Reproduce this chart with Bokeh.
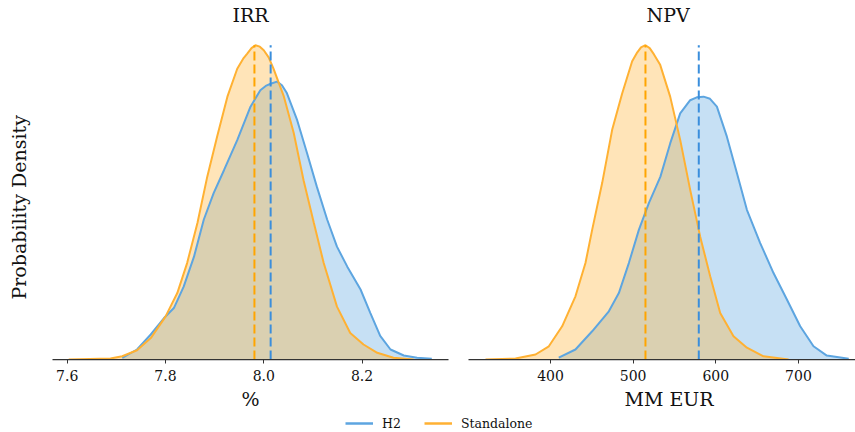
import math
from bokeh.plotting import figure
from bokeh.layouts import column, row
from bokeh.models import Range1d, FixedTicker, Legend, LegendItem, Title
from bokeh.core.properties import value
from bokeh.embed import file_html
from bokeh.resources import INLINE

# ---------------- data ----------------
series = ["H2", "Standalone"]

# IRR (%) kernel density estimates
irr_h2_x = [7.712, 7.742, 7.770, 7.797, 7.817, 7.837, 7.858, 7.878, 7.898, 7.919, 7.946, 7.973, 7.993,
            8.004, 8.014, 8.027, 8.037, 8.047, 8.068, 8.088, 8.108, 8.129, 8.149, 8.170, 8.197, 8.217,
            8.237, 8.258, 8.285, 8.312, 8.342]
irr_h2_d = [0.024, 0.14, 0.35, 0.58, 0.72, 1.02, 1.44, 1.96, 2.33, 2.65, 3.07, 3.54, 3.77,
            3.83, 3.86, 3.89, 3.84, 3.73, 3.35, 2.89, 2.42, 1.96, 1.58, 1.30, 0.98, 0.65,
            0.33, 0.14, 0.056, 0.024, 0.010]
irr_sa_x = [7.603, 7.688, 7.712, 7.742, 7.770, 7.800, 7.824, 7.844, 7.865, 7.885, 7.905, 7.926, 7.946,
            7.959, 7.966, 7.975, 7.983, 7.992, 8.000, 8.010, 8.020, 8.041, 8.061, 8.081, 8.102, 8.122,
            8.149, 8.176, 8.203, 8.231, 8.264, 8.305]
irr_sa_d = [0.0, 0.014, 0.046, 0.13, 0.30, 0.60, 0.93, 1.35, 1.91, 2.56, 3.12, 3.68, 4.07,
            4.22, 4.28, 4.36, 4.40, 4.38, 4.33, 4.23, 4.07, 3.68, 3.17, 2.51, 1.91, 1.35,
            0.74, 0.37, 0.21, 0.094, 0.024, 0.0]
irr_means = [8.014, 7.981]          # H2, Standalone

# NPV (MM EUR) kernel density estimates
npv_h2_x = [410.0, 430.2, 450.4, 470.6, 482.7, 494.8, 506.9, 519.0, 533.0, 544.8, 556.9, 569.0, 577.0,
            585.2, 593.0, 601.3, 613.4, 625.5, 637.6, 653.7, 669.8, 686.0, 702.1, 718.2, 734.3, 760.8]
npv_h2_d = [0.00005, 0.00028, 0.00079, 0.00135, 0.00186, 0.00270, 0.00363, 0.00438, 0.00512, 0.00605,
            0.00689, 0.00726, 0.00734, 0.00736, 0.00730, 0.00708, 0.00624, 0.00522, 0.00419, 0.00326,
            0.00242, 0.00168, 0.00093, 0.00037, 0.00011, 0.00002]
npv_sa_x = [321.4, 357.7, 381.9, 398.0, 414.1, 430.2, 442.3, 450.4, 462.5, 474.6, 486.7, 498.8, 505.0,
            509.5, 514.9, 520.0, 525.0, 532.7, 544.8, 556.9, 569.0, 581.1, 593.2, 605.3, 621.4, 637.6,
            657.7, 688.0]
npv_sa_d = [0.0, 0.00003, 0.00014, 0.00037, 0.00093, 0.00177, 0.00270, 0.00363, 0.00494, 0.00643,
            0.00745, 0.00835, 0.00860, 0.00874, 0.00880, 0.00872, 0.00855, 0.00825, 0.00736, 0.00615,
            0.00475, 0.00344, 0.00233, 0.00130, 0.00065, 0.00033, 0.00009, 0.0]
npv_means = [579.4, 514.9]          # H2, Standalone

irr_ticks = [7.6, 7.8, 8.0, 8.2]
irr_tick_labels = ["7.6", "7.8", "8.0", "8.2"]
npv_ticks = [400, 500, 600, 700]
npv_tick_labels = ["400", "500", "600", "700"]
irr_xlim = (7.570, 8.376)
npv_xlim = (300.8, 769.0)
y_label = "Probability Density"

# ---------------- style ----------------
line_colors = ["#5DA5E0", "#FFB133"]
dash_colors = ["#3A8EDC", "#FFA500"]
FONT = "DejaVu Serif"
TEXT = "#111111"
H = 412


def styled_title(text, align="center", offset=0, standoff=2, valign="bottom"):
    return Title(text=text, align=align, offset=offset, standoff=standoff, vertical_align=valign,
                 text_font=FONT, text_font_size="19px", text_font_style="normal",
                 text_color=TEXT)


def make_panel(title, xlabel, xs, ds, means, xlim, ticks, tick_labels,
               width, left, right, title_off=None, label_off=None):
    ymax = max(max(d) for d in ds)
    p = figure(width=width, height=H,
               x_range=Range1d(*xlim), y_range=Range1d(0, ymax * 1.05),
               toolbar_location=None, output_backend="svg",
               y_axis_location=None,
               min_border_left=left, min_border_right=right,
               min_border_top=29, min_border_bottom=52)
    if title_off is None:
        p.title = styled_title(title, standoff=3, valign="top")
    else:
        p.title = styled_title(title, align="left", offset=title_off, standoff=3, valign="top")
    p.outline_line_color = None
    p.grid.visible = False
    p.background_fill_color = "white"
    p.border_fill_color = "white"

    for x, d, c in zip(xs, ds, line_colors):
        p.varea(x=x, y1=[0] * len(x), y2=d, fill_color=c, fill_alpha=0.35)
    for x, d, c in zip(xs, ds, line_colors):
        p.line(x, d, line_color=c, line_width=2)
    p.segment(x0=means, y0=[0, 0], x1=means, y1=[ymax, ymax],
              line_color=dash_colors, line_width=2, line_dash="9 4")

    ax = p.xaxis[0]
    ax.ticker = FixedTicker(ticks=ticks)
    ax.major_label_overrides = {t: l for t, l in zip(ticks, tick_labels)}
    ax.minor_tick_line_color = None
    ax.major_tick_out = 4
    ax.major_tick_in = 0
    ax.axis_line_color = "#333333"
    ax.axis_line_width = 1.25
    ax.major_tick_line_color = "#333333"
    ax.major_label_text_font = FONT
    ax.major_label_text_font_size = "14px"
    ax.major_label_text_color = TEXT
    ax.major_label_standoff = 6

    if label_off is None:
        p.add_layout(styled_title(xlabel, standoff=5), "below")
    else:
        p.add_layout(styled_title(xlabel, align="left", offset=label_off, standoff=5), "below")
    return p


# y-label strip (pixel-like coordinates, y measured from the top)
p0 = figure(width=40, height=H, x_range=Range1d(0, 40), y_range=Range1d(H, 0),
            toolbar_location=None, output_backend="svg",
            x_axis_location=None, y_axis_location=None, min_border=0)
p0.outline_line_color = None
p0.grid.visible = False
p0.text(x=[18], y=[222], text=[y_label], angle=math.pi / 2,
        text_align="center", text_baseline="middle",
        text_font=value(FONT), text_font_size="19px", text_color=TEXT)

p1 = make_panel("IRR", "%", [irr_h2_x, irr_sa_x], [irr_h2_d, irr_sa_d], irr_means,
                irr_xlim, irr_ticks, irr_tick_labels, 420, 12, 12)
p2 = make_panel("NPV", "MM EUR", [npv_h2_x, npv_sa_x], [npv_h2_d, npv_sa_d], npv_means,
                npv_xlim, npv_ticks, npv_tick_labels, 395, 8, 0, title_off=178, label_off=156)

# legend strip
p3 = figure(width=855, height=20, x_range=(0, 1), y_range=(0, 1),
            toolbar_location=None, output_backend="svg",
            x_axis_location=None, y_axis_location=None, min_border=0)
p3.outline_line_color = None
p3.grid.visible = False
nan = float("nan")
items = []
for name, c in zip(series, line_colors):
    r = p3.line([nan, nan], [nan, nan], line_color=c, line_width=2.5)
    items.append(LegendItem(label=name, renderers=[r]))
legend = Legend(items=items, orientation="horizontal", location=(345, 1),
                border_line_color=None, background_fill_alpha=0,
                label_text_font=FONT, label_text_font_size="12.5px", label_text_color=TEXT,
                glyph_width=28, glyph_height=16, label_standoff=9, spacing=22,
                padding=0, margin=0)
p3.add_layout(legend, "center")

layout = column(row(p0, p1, p2, spacing=0), p3, spacing=0)
open("out.html", "w").write(file_html(layout, INLINE))
